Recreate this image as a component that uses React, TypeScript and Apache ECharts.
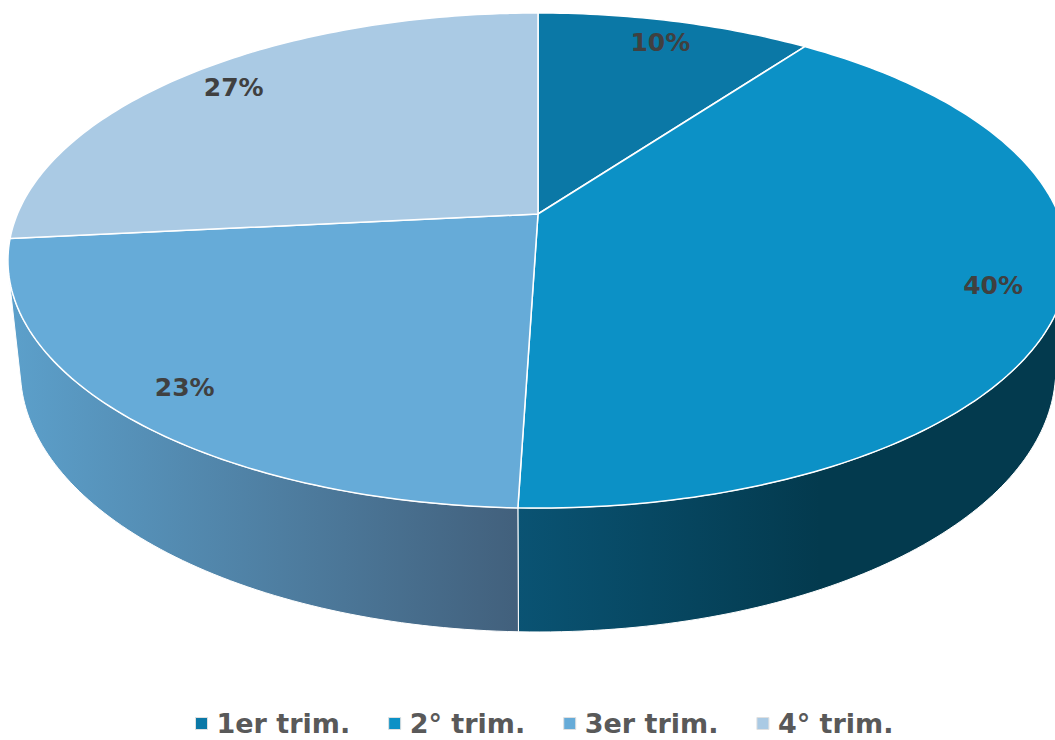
import React, { useEffect, useRef } from "react";
import * as echarts from "echarts";

// ---- data ----
const categories = ["1er trim.", "2° trim.", "3er trim.", "4° trim."];
const values = [10.05, 40.45, 22.9, 26.6];

// ---- styles ----
const topColors = ["#0B78A6", "#0C91C6", "#66ABD8", "#AACAE4"];
const wallStops = [
  [["#095F84", 0], ["#05405A", 1]],
  [["#0A5373", 0], ["#033A4E", 0.55], ["#033A4E", 1]],
  [["#5CA0CB", 0], ["#42607C", 1]],
  [["#86A2B8", 0], ["#5C7488", 1]],
];

// ---- perspective camera for the 3D disc ----
const CX = 538;
const CY = 214;
const F = 2462;
const DIST = 4.729;
const SIN = 0.4587;
const COS = 0.8886;
const THICK = 0.2384;
const LABEL_R = 0.875;

function proj(X: number, Y: number, Z: number): number[] {
  const d = DIST - (Y * SIN + Z * COS);
  const v = Y * COS - Z * SIN;
  return [CX + (F * X) / d, CY - (F * v) / d];
}
function rim(aDeg: number, r: number, Y: number): number[] {
  const a = (aDeg * Math.PI) / 180;
  return proj(r * Math.sin(a), Y, -r * Math.cos(a));
}
function arc(a0: number, a1: number, r: number, Y: number): number[][] {
  const pts: number[][] = [];
  const n = Math.max(2, Math.ceil(Math.abs(a1 - a0)));
  for (let k = 0; k <= n; k++) pts.push(rim(a0 + ((a1 - a0) * k) / n, r, Y));
  return pts;
}

const total = values.reduce((s, v) => s + v, 0);

function makeRender(i: number) {
  return (params: any, api: any) => {
    const v = api.value(0);
    let before = 0;
    for (let k = 0; k < i; k++) before += values[k];
    const a0 = (before / total) * 360;
    const a1 = a0 + (v / total) * 360;
    const children: any[] = [];

    // visible wall range (silhouette generators)
    const zs = 1 / (DIST * COS);
    const wMin = (Math.acos(-zs) * 180) / Math.PI;
    const wMax = 360 - wMin;
    const s = Math.max(a0, wMin);
    const e = Math.min(a1, wMax);
    if (e > s) {
      const topArc = arc(s, e, 1, 0);
      const botArc = arc(e, s, 1, -THICK);
      const pts = topArc.concat(botArc);
      const xs = pts.map((p) => p[0]);
      const xmin = Math.min(...xs);
      const xmax = Math.max(...xs);
      const grad = new echarts.graphic.LinearGradient(
        xmin, 0, xmax, 0,
        wallStops[i].map((st: any) => ({ offset: st[1], color: st[0] })),
        true
      );
      children.push({
        type: "polygon",
        shape: { points: pts },
        style: { fill: grad, stroke: "#ffffff", lineWidth: 1 },
      });
    }

    const top = [proj(0, 0, 0)].concat(arc(a0, a1, 1, 0));
    children.push({
      type: "polygon",
      shape: { points: top },
      style: { fill: topColors[i], stroke: "#ffffff", lineWidth: 1.5 },
    });

    const mid = (a0 + a1) / 2;
    const lp = rim(mid, LABEL_R, 0);
    children.push({
      type: "text",
      x: lp[0],
      y: lp[1],
      z2: 100,
      style: {
        text: Math.round((v / total) * 100) + "%",
        fill: "#404040",
        font: "bold 25px 'DejaVu Sans'",
        align: "center",
        verticalAlign: "middle",
      },
    });
    return { type: "group", children };
  };
}

export default function App() {
  const ref = useRef<HTMLDivElement>(null);
  useEffect(() => {
    if (!ref.current) return;
    const chart = echarts.init(ref.current, null, { renderer: "svg" });
    chart.setOption({
      animation: false,
      backgroundColor: "#ffffff",
      color: topColors,
      legend: {
        data: categories,
        left: 190,
        top: 705,
        icon: "rect",
        itemWidth: 12,
        itemHeight: 12,
        itemGap: 38,
        itemStyle: { borderColor: "#e0e0e0", borderWidth: 1 },
        textStyle: {
          fontFamily: "DejaVu Sans",
          fontWeight: "bold",
          fontSize: 27,
          lineHeight: 26,
          color: "#595959",
          padding: [0, 0, 0, 4],
        },
      },
      series: categories.map((name, i) => ({
        type: "custom",
        name,
        coordinateSystem: "none",
        itemStyle: { color: topColors[i] },
        data: [[values[i]]],
        renderItem: makeRender(i),
      })),
    });
    return () => chart.dispose();
  }, []);
  return (
    <div
      ref={ref}
      style={{ position: "fixed", left: 0, top: 0, width: 1055, height: 740 }}
    />
  );
}
